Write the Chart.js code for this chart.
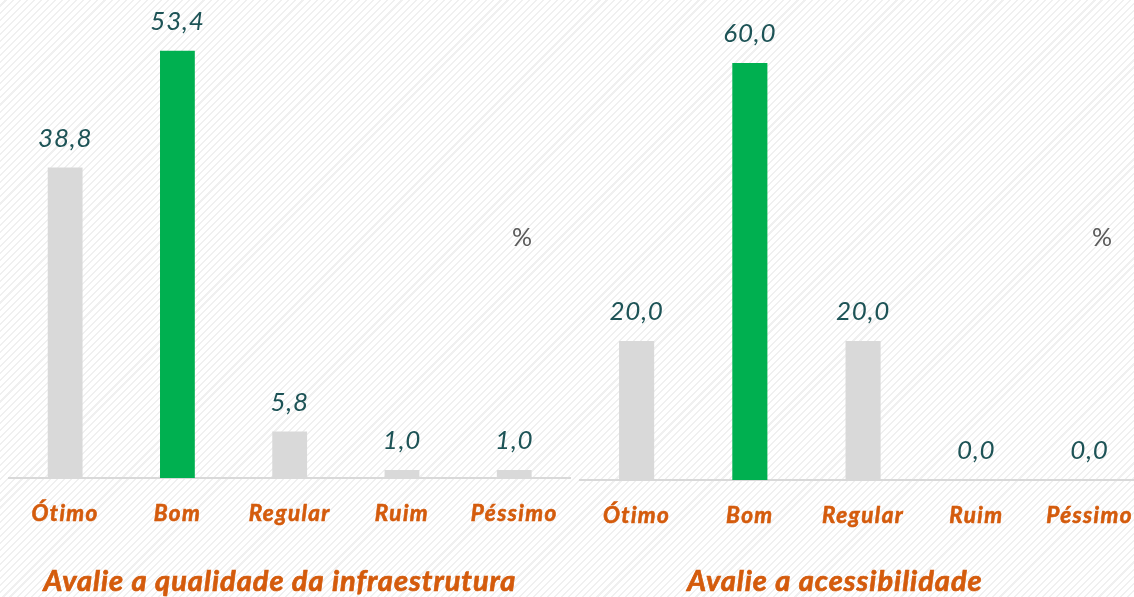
<!DOCTYPE html>
<html>
<head>
<meta charset="utf-8">
<script src="https://cdn.jsdelivr.net/npm/chart.js@4"></script>
<style>
  html, body { margin: 0; padding: 0; width: 1134px; height: 597px; overflow: hidden; }
  body {
    position: relative;
    background: repeating-linear-gradient(135deg, #ffffff 0px, #ffffff 3.5px, #f0f0f0 3.5px, #f0f0f0 5px);
  }
  .box { position: absolute; top: 0; width: 575px; height: 597px; }
  #leftBox { left: 0; }
  #rightBox { left: 575px; }
</style>
</head>
<body>
<div class="box" id="leftBox"><canvas id="infraChart"></canvas></div>
<div class="box" id="rightBox"><canvas id="accessChart"></canvas></div>
<script>
const categories = ["Ótimo", "Bom", "Regular", "Ruim", "Péssimo"];
const infraValues = [38.8, 53.4, 5.8, 1.0, 1.0];
const accessValues = [20.0, 60.0, 20.0, 0.0, 0.0];
const infraTitle = "Avalie a qualidade da infraestrutura";
const accessTitle = "Avalie a acessibilidade";

const GREY = "#d9d9d9";
const GREEN = "#00b050";
const ORANGE = "#d45b0c";
const TEAL = "#1d5356";
const FONT = "Lato, 'Open Sans', sans-serif";

// value labels, "%" marker and caption under the axis
const extrasPlugin = {
    id: "extras",
    beforeDraw(chart) {
        // wider spacing for the tick labels (closer to the original font)
        chart.ctx.letterSpacing = "1.4px";
    },
    afterDatasetsDraw(chart, args, opts) {
        const ctx = chart.ctx;
        const meta = chart.getDatasetMeta(0);
        ctx.save();
        ctx.textAlign = "center";
        ctx.textBaseline = "middle";
        ctx.fillStyle = TEAL;
        ctx.letterSpacing = "0.8px";
        ctx.font = "italic 26px " + FONT;
        meta.data.forEach((bar, i) => {
            const v = chart.data.datasets[0].data[i];
            ctx.fillText(v.toFixed(1).replace(".", ","), bar.x, bar.y - 29);
        });
        ctx.letterSpacing = "0px";
        ctx.fillStyle = "#595959";
        ctx.font = "25px " + FONT;
        ctx.fillText("%", opts.pctX, 238);
        ctx.fillStyle = ORANGE;
        ctx.strokeStyle = ORANGE;
        ctx.lineWidth = 0.7;
        ctx.letterSpacing = "1px";
        ctx.font = "bold italic 29px " + FONT;
        ctx.fillText(opts.caption, opts.captionX, 582);
        ctx.strokeText(opts.caption, opts.captionX, 582);
        ctx.restore();
    }
};

function makeChart(id, values, yMax, axisHeight, pad, caption, captionX, pctX) {
    return new Chart(document.getElementById(id), {
        type: "bar",
        data: {
            labels: categories,
            datasets: [{
                data: values,
                backgroundColor: values.map((v, i) => i === 1 ? GREEN : GREY),
                barPercentage: 0.31,
                categoryPercentage: 1.0
            }]
        },
        options: {
            responsive: true,
            maintainAspectRatio: false,
            animation: false,
            layout: { padding: { left: pad.left, right: pad.right, top: 0, bottom: 0 } },
            plugins: {
                legend: { display: false },
                tooltip: { enabled: false },
                extras: { caption: caption, captionX: captionX, pctX: pctX }
            },
            scales: {
                x: {
                    grid: { display: false, drawTicks: false },
                    border: { display: true, color: GREY, width: 2 },
                    ticks: {
                        color: ORANGE,
                        textStrokeColor: ORANGE,
                        textStrokeWidth: 0.6,
                        padding: 22,
                        font: { family: FONT, size: 22.5, style: "italic", weight: "bold" }
                    },
                    afterFit(scale) { scale.height = axisHeight; }
                },
                y: {
                    display: false,
                    min: 0,
                    max: yMax
                }
            }
        },
        plugins: [extrasPlugin]
    });
}

makeChart("infraChart", infraValues, 59.75, 119, { left: 9, right: 3 }, infraTitle, 280, 522);
makeChart("accessChart", accessValues, 69.06, 117, { left: 5, right: -8 }, accessTitle, 260, 527);
</script>
</body>
</html>
